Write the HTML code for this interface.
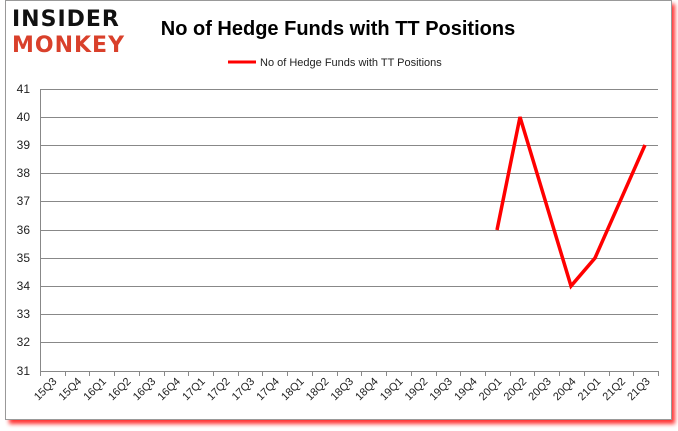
<!DOCTYPE html>
<html><head><style>
body{margin:0;background:#fff;}
svg{display:block;font-family:"Liberation Sans",sans-serif;}
</style></head><body>
<svg width="678" height="431" viewBox="0 0 678 431">
<defs><filter id="sh" x="-5%" y="-5%" width="110%" height="110%"><feGaussianBlur stdDeviation="2"/></filter></defs>
<rect x="9" y="4" width="666" height="420" fill="#f00" opacity="0.8" filter="url(#sh)"/>
<rect x="5.5" y="0.5" width="666" height="419" fill="#fff" stroke="#999"/>
<text x="12" y="26" font-size="22" font-weight="bold" fill="#111" font-family="DejaVu Sans" letter-spacing="1">INSIDER</text>
<text x="12" y="52" font-size="22" font-weight="bold" fill="#d9402b" font-family="DejaVu Sans" letter-spacing="1">MONKEY</text>
<text x="338" y="35" font-size="20" font-weight="bold" text-anchor="middle" fill="#000">No of Hedge Funds with TT Positions</text>
<line x1="228" y1="62" x2="256" y2="62" stroke="#f00" stroke-width="3"/>
<text x="260" y="66" font-size="11" fill="#222">No of Hedge Funds with TT Positions</text>
<g stroke="#888" stroke-width="1">
<line x1="40" y1="89.5" x2="658" y2="89.5"/><line x1="40" y1="117.5" x2="658" y2="117.5"/>
<line x1="40" y1="145.5" x2="658" y2="145.5"/><line x1="40" y1="173.5" x2="658" y2="173.5"/>
<line x1="40" y1="201.5" x2="658" y2="201.5"/><line x1="40" y1="230.5" x2="658" y2="230.5"/>
<line x1="40" y1="258.5" x2="658" y2="258.5"/><line x1="40" y1="286.5" x2="658" y2="286.5"/>
<line x1="40" y1="314.5" x2="658" y2="314.5"/><line x1="40" y1="342.5" x2="658" y2="342.5"/>
<line x1="40" y1="371.5" x2="658" y2="371.5"/>
<line x1="40.5" y1="89" x2="40.5" y2="375"/>
</g>
<g font-size="12" fill="#222" text-anchor="end">
<text x="30" y="93">41</text><text x="30" y="121">40</text><text x="30" y="149">39</text><text x="30" y="177">38</text><text x="30" y="205">37</text><text x="30" y="234">36</text><text x="30" y="262">35</text><text x="30" y="290">34</text><text x="30" y="318">33</text><text x="30" y="346">32</text><text x="30" y="375">31</text>
</g>
<g id="ticks" stroke="#888"></g>
<g id="labs" font-size="11" fill="#222" text-anchor="end"></g>
<polyline fill="none" stroke="#f00" stroke-width="3.5" stroke-linejoin="miter" points="497,230 520,117 571,286 595,258 645,145"/>
<script>
var L=["15Q3","15Q4","16Q1","16Q2","16Q3","16Q4","17Q1","17Q2","17Q3","17Q4","18Q1","18Q2","18Q3","18Q4","19Q1","19Q2","19Q3","19Q4","20Q1","20Q2","20Q3","20Q4","21Q1","21Q2","21Q3"];
var w=618/25,t=document.getElementById('ticks'),g=document.getElementById('labs'),ns="http://www.w3.org/2000/svg";
for(var i=0;i<=25;i++){var x=Math.round(40+w*i)+0.5;var l=document.createElementNS(ns,'line');l.setAttribute('x1',x);l.setAttribute('x2',x);l.setAttribute('y1',371);l.setAttribute('y2',376);t.appendChild(l);}
L.forEach(function(s,i){var x=40+w*(i+0.5)+5,y=382;var e=document.createElementNS(ns,'text');e.setAttribute('transform','translate('+x+','+y+') rotate(-45)');e.textContent=s;g.appendChild(e);});
</script>
</svg>
</body></html>
